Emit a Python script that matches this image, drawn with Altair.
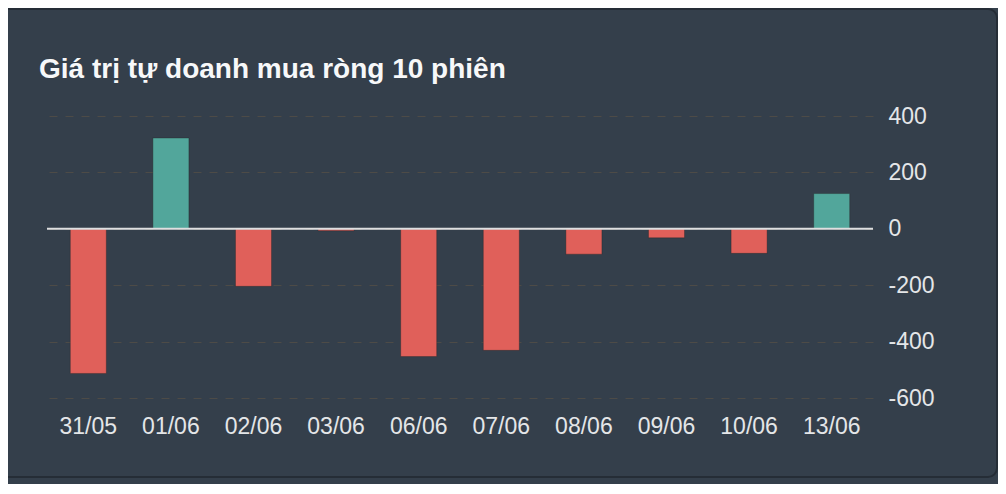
import altair as alt
import pandas as pd

dates = ["31/05", "01/06", "02/06", "03/06", "06/06", "07/06", "08/06", "09/06", "10/06", "13/06"]
values = [-513, 322, -204, -7, -453, -431, -90, -32, -87, 125]
y_ticks = [-600, -400, -200, 0, 200, 400]
title_text = "Giá trị tự doanh mua ròng 10 phiên"

BG = "#343f4b"
RED = "#e0605a"
TEAL = "#52a69b"
TEXT = "#e4e6e8"
FONT = "Liberation Sans"

df = pd.DataFrame({"date": dates, "value": values})
zero_df = pd.DataFrame({"v": [0]})
frame_df = pd.DataFrame({"k": [1]})
title_df = pd.DataFrame({"t": [title_text]})

x_enc = alt.X(
    "date:N",
    sort=None,
    title=None,
    scale=alt.Scale(paddingInner=0.564, paddingOuter=0.282),
    axis=alt.Axis(
        labelAngle=0, ticks=False, tickSize=0, domain=False, grid=False,
        labelFont=FONT, labelFontSize=23, labelColor=TEXT, labelPadding=17,
    ),
)
y_enc = alt.Y(
    "value:Q",
    title=None,
    scale=alt.Scale(domain=[-600, 400], nice=False),
    axis=alt.Axis(
        orient="right", values=y_ticks, ticks=False, tickSize=0, domain=False,
        grid=True, gridColor="#4d4b47", gridDash=[8, 8], gridWidth=1,
        labelFont=FONT, labelFontSize=23, labelColor=TEXT, labelPadding=15,
        labelAlign="left", labelExpr="'' + datum.value",
    ),
)

bars = alt.Chart(df).mark_bar(strokeWidth=1, strokeOpacity=0.35).encode(
    x=x_enc,
    y=y_enc,
    color=alt.condition(alt.datum.value > 0, alt.value(TEAL), alt.value(RED)),
    stroke=alt.value("#222222"),
)

zero = alt.Chart(zero_df).mark_rule(color="#dedfe0", strokeWidth=2).encode(
    y=alt.Y("v:Q", scale=alt.Scale(domain=[-600, 400], nice=False))
)

frame = alt.Chart(frame_df).mark_rect(
    fillOpacity=0, stroke="#252d36", strokeWidth=2, cornerRadius=9, clip=False
).encode(
    x=alt.value(-100), x2=alt.value(950), y=alt.value(-107), y2=alt.value(361)
)

title = alt.Chart(title_df).mark_text(
    align="left", baseline="alphabetic", font=FONT, fontSize=28,
    fontWeight="bold", color="#f7f8f9", clip=False,
).encode(
    text="t:N", x=alt.value(-8), y=alt.value(-38.5)
)

chart = alt.layer(frame, bars, zero, title).properties(
    width=826,
    height=282,
    padding={"left": 39, "top": 108, "right": 125, "bottom": 86},
    autosize=alt.AutoSizeParams(type="none"),
    background=BG,
).configure_view(stroke=None)

chart.save("out.html", embed_options={"renderer": "svg", "actions": False})
